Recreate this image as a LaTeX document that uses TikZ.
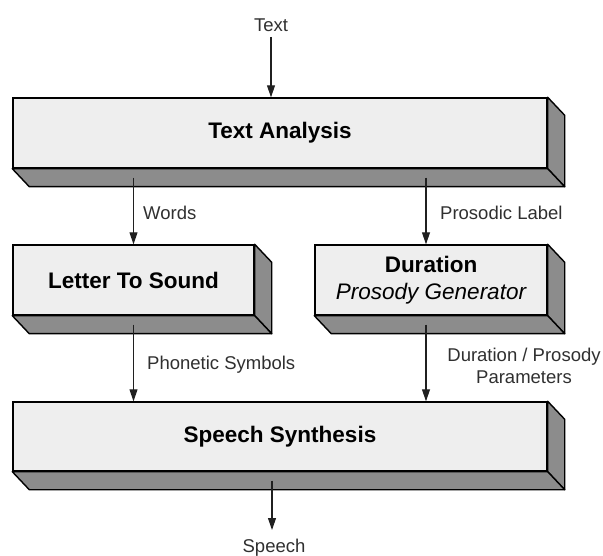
\documentclass[tikz,border=0pt]{standalone}
\usepackage{fontspec}
\setmainfont{Liberation Sans}
\usetikzlibrary{arrows.meta,calc}
\definecolor{frontc}{HTML}{EEEEEE}
\definecolor{sidec}{HTML}{8C8C8C}
\definecolor{linec}{HTML}{202020}
\definecolor{labc}{HTML}{303030}
\tikzset{
  front/.style={draw=black, line width=1.4pt, fill=frontc, inner sep=0pt, align=center,
     font=\fontsize{22.5}{28}\selectfont\bfseries},
  face/.style={draw=black, line width=1.4pt, fill=sidec, line join=round},
  arr/.style={draw=linec, line width=1.1pt, -{Triangle[width=8pt,length=12pt]}},
  lab/.style={text=labc, inner sep=0pt, font=\fontsize{18.5}{22.5}\selectfont},
}
\newcommand{\boxfaces}[1]{%
  \draw[face] (#1.north east) -- ++(17,18) -- ($(#1.south east)+(17,18)$) -- (#1.south east) -- cycle;
  \draw[face] (#1.south west) -- (#1.south east) -- ++(17,18) -- ($(#1.south west)+(17,18)$) -- cycle;
}
\begin{document}
\begin{tikzpicture}[x=1pt,y=-1pt]
\fill[white] (0,0) rectangle (603,556);
\useasboundingbox (0,0) rectangle (603,556);

\node[front, minimum width=534pt, minimum height=70pt] (ta) at (280,133) {Text Analysis};
\node[front, minimum width=241pt, minimum height=70pt] (lts) at (133.5,280) {Letter To Sound};
\node[front, minimum width=232pt, minimum height=70pt] (dur) at (431,280) {Duration\\[-1pt]{\mdseries\itshape Prosody Generator}};
\node[front, minimum width=534pt, minimum height=69pt] (ss) at (280,436.5) {Speech Synthesis};
\boxfaces{ta}
\boxfaces{lts}
\boxfaces{dur}
\boxfaces{ss}

\node[lab] (tin) at (271,25) {Text};
\node[lab] (sout) at (274,548) {Speech};
\coordinate (tinb) at (271,37);
\coordinate (soutb) at (272,530);

\draw[arr] (tinb) -- (tinb |- ta.north);
\draw[arr] ([yshift=-9pt]ta.south -| lts.north) -- (lts.north);
\draw[arr] ([xshift=-5pt,yshift=-9pt]ta.south -| dur.north) -- ([xshift=-5pt]dur.north);
\draw[arr] ([yshift=-9pt]lts.south) -- (lts.south |- ss.north);
\draw[arr] ([xshift=-5pt,yshift=-9pt]dur.south) -- ([xshift=-5pt]dur.south |- ss.north);
\draw[arr] ([yshift=-9pt]ss.south -| soutb) -- (soutb);

\node[lab, anchor=west] (lw) at (143,213) {Words};
\node[lab, anchor=west] (lp) at (440,213) {Prosodic Label};
\node[lab, anchor=west] (lph) at (147,365) {Phonetic Symbols};
\node[lab, align=center] (ldp) at (524,366) {Duration / Prosody\\Parameters};
\end{tikzpicture}
\end{document}
